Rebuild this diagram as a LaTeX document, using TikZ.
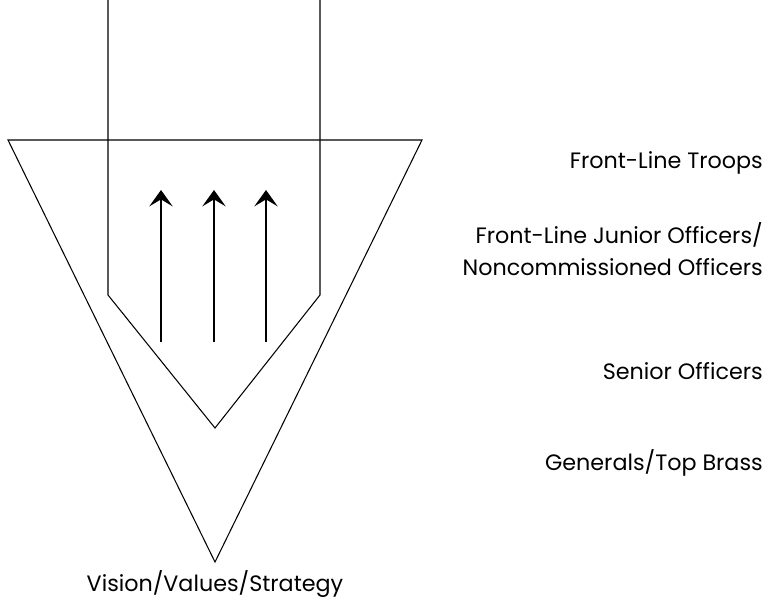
\documentclass[tikz,border=0pt]{standalone}
\usepackage{fontspec}
\setmainfont{Poppins}
\usepackage{tikz}
\usetikzlibrary{positioning,calc}
\usetikzlibrary{arrows.meta}
\tikzset{
  outline/.style={draw=black,line width=0.9pt},
  push/.style={draw=black,line width=1pt,-{Stealth[length=14pt,width=20pt,inset=6pt]}},
  rank/.style={anchor=east,align=right,font=\fontsize{19}{27}\selectfont,inner sep=0pt},
}

\begin{document}
\begin{tikzpicture}[x=0.03cm,y=-0.03cm]
\useasboundingbox (0,0) rectangle (775,607);
% big triangle
\coordinate (tl) at (8,140);
\coordinate (tr) at (422,140);
\coordinate (tb) at (215,562);
\draw[outline] (tl)--(tr)--(tb)--cycle;
% tube
\coordinate (p1) at (108,0);
\coordinate (p2) at (108,295);
\coordinate (p3) at (215,428);
\coordinate (p4) at (320,295);
\coordinate (p5) at (320,0);
\draw[outline] (p1)--(p2)--(p3)--(p4)--(p5);
% arrows
\coordinate (a1) at (161,342);
\coordinate (a2) at (214,342);
\coordinate (a3) at (266,342);
\coordinate (b1) at (161,190);
\coordinate (b2) at (214,190);
\coordinate (b3) at (266,190);
\draw[push] (a1)--(b1);
\draw[push] (a2)--(b2);
\draw[push] (a3)--(b3);
% labels
\node[rank] (troops) at (763,163) {Front-Line Troops};
\node[rank] (junior) at (763,249) {Front-Line Junior Officers/\\Noncommissioned Officers};
\node[rank] (senior) at (763,371) {Senior Officers};
\node[rank] (generals) at (763,463) {Generals/Top Brass};
\node[rank,anchor=center,align=center] (vision) at (215,584) {Vision/Values/Strategy};
\end{tikzpicture}
\end{document}
